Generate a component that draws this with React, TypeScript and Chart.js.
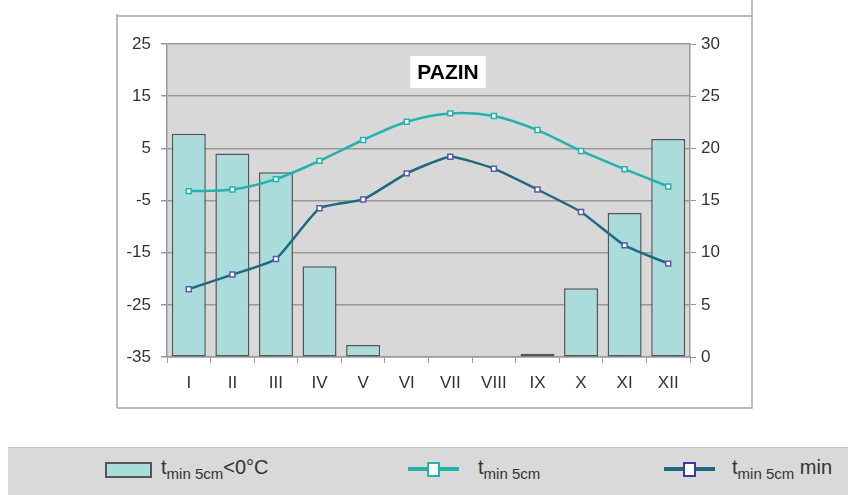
import React, { useEffect, useRef } from "react";
import { Chart, registerables } from "chart.js";

Chart.register(...registerables);

const months = ["I", "II", "III", "IV", "V", "VI", "VII", "VIII", "IX", "X", "XI", "XII"];
const daysBelowZero = [21.4, 19.5, 17.7, 8.7, 1.15, 0, 0, 0, 0.3, 6.6, 13.8, 20.9];
const tMin5cm = [-3.2, -2.9, -0.9, 2.6, 6.6, 10.1, 11.7, 11.2, 8.5, 4.5, 1.0, -2.3];
const tMin5cmMin = [-22.0, -19.2, -16.2, -6.5, -4.8, 0.2, 3.4, 1.1, -2.9, -7.2, -13.6, -17.1];
const leftTicks = [-35, -25, -15, -5, 5, 15, 25];
const rightTicks = [0, 5, 10, 15, 20, 25, 30];
const titleText = "PAZIN";

const FONT = "'Liberation Sans', Arial, sans-serif";

const bgPlugin = {
  id: "bgPlugin",
  beforeDraw(chart: any) {
    const { ctx, chartArea } = chart;
    ctx.save();
    ctx.fillStyle = "#ffffff";
    ctx.fillRect(0, 0, chart.width, chart.height);
    ctx.fillStyle = "#d8d8d8";
    ctx.fillRect(chartArea.left, chartArea.top, chartArea.right - chartArea.left, chartArea.bottom - chartArea.top);
    // outer frame
    ctx.strokeStyle = "#a8a8a8";
    ctx.lineWidth = 1.5;
    ctx.beginPath();
    ctx.moveTo(117, 408);
    ctx.lineTo(117, 14);
    ctx.moveTo(117, 16);
    ctx.lineTo(752, 16);
    ctx.moveTo(752, 0);
    ctx.lineTo(752, 408);
    ctx.lineTo(117, 408);
    ctx.stroke();
    ctx.restore();
  },
  afterDraw(chart: any) {
    const { ctx } = chart;
    ctx.save();
    ctx.font = `bold 21px ${FONT}`;
    const w = ctx.measureText(titleText).width;
    const cx = 448;
    const cy = 72;
    ctx.fillStyle = "#ffffff";
    ctx.fillRect(cx - w / 2 - 7, cy - 16, w + 14, 32);
    ctx.fillStyle = "#000000";
    ctx.textAlign = "center";
    ctx.textBaseline = "middle";
    ctx.fillText(titleText, cx, cy + 1);
    ctx.restore();
  },
};

function ChartBox() {
  const ref = useRef<HTMLCanvasElement | null>(null);
  useEffect(() => {
    if (!ref.current) return;
    const chart = new Chart(ref.current, {
      type: "bar",
      data: {
        labels: months,
        datasets: [
          {
            type: "line",
            label: "tmin 5cm",
            data: tMin5cm,
            yAxisID: "y",
            borderColor: "#22b3ad",
            borderWidth: 2.5,
            pointStyle: "rect",
            pointRadius: 3.5,
            pointBackgroundColor: "#ffffff",
            pointBorderColor: "#22b3ad",
            pointBorderWidth: 1.5,
            tension: 0.3,
            order: 1,
          } as any,
          {
            type: "line",
            label: "tmin 5cm min",
            data: tMin5cmMin,
            yAxisID: "y",
            borderColor: "#1d6a7e",
            borderWidth: 2.5,
            pointStyle: "rect",
            pointRadius: 3.5,
            pointBackgroundColor: "#ffffff",
            pointBorderColor: "#5a5aaa",
            pointBorderWidth: 1.5,
            tension: 0.15,
            order: 0,
          } as any,
          {
            type: "bar",
            label: "tmin 5cm<0°C",
            data: daysBelowZero,
            yAxisID: "y1",
            backgroundColor: "#aadcdc",
            borderColor: "#555555",
            borderWidth: 1.5,
            borderSkipped: false,
            barPercentage: 0.78,
            categoryPercentage: 1,
            order: 2,
          } as any,
        ],
      },
      options: {
        animation: false,
        responsive: false,
        maintainAspectRatio: false,
        layout: { padding: { left: 117, right: 96, top: 44, bottom: 87 } },
        plugins: {
          legend: { display: false },
          title: { display: false },
          tooltip: { enabled: false },
        },
        scales: {
          x: {
            grid: {
              display: true,
              drawOnChartArea: false,
              drawTicks: true,
              tickLength: 6,
              color: "#999999",
              offset: true,
            },
            border: { display: true, color: "#999999", width: 1.5 },
            ticks: { color: "#333333", font: { family: FONT, size: 17 }, padding: 10 },
            afterFit: (s: any) => {
              s.height = 51;
            },
          },
          y: {
            position: "left",
            min: -35,
            max: 25,
            afterBuildTicks: (s: any) => {
              s.ticks = leftTicks.map((v) => ({ value: v }));
            },
            grid: { color: "#999999", lineWidth: 1.5, drawTicks: true, tickLength: 6 },
            border: { display: true, color: "#999999", width: 1.5 },
            ticks: { color: "#333333", font: { family: FONT, size: 17 }, padding: 10 },
            afterFit: (s: any) => {
              s.width = 50;
            },
          },
          y1: {
            position: "right",
            min: 0,
            max: 30,
            afterBuildTicks: (s: any) => {
              s.ticks = rightTicks.map((v) => ({ value: v }));
            },
            grid: { drawOnChartArea: false, color: "#999999", drawTicks: true, tickLength: 6 },
            border: { display: true, color: "#999999", width: 1.5 },
            ticks: { color: "#333333", font: { family: FONT, size: 17 }, padding: 5 },
            afterFit: (s: any) => {
              s.width = 62;
            },
          },
        },
      } as any,
      plugins: [bgPlugin],
    });
    return () => chart.destroy();
  }, []);
  return <canvas ref={ref} width={848} height={495} style={{ position: "absolute", left: 0, top: 0, width: 848, height: 495 }} />;
}

const legendText: React.CSSProperties = {
  position: "absolute",
  top: 454,
  fontFamily: FONT,
  fontSize: 20,
  color: "#333333",
  whiteSpace: "nowrap",
  lineHeight: "26px",
};
const subStyle: React.CSSProperties = { fontSize: 15, verticalAlign: -5 };

function LineSymbol({ left, line, marker }: { left: number; line: string; marker: string }) {
  return (
    <div style={{ position: "absolute", left, top: 461, width: 51, height: 16 }}>
      <div style={{ position: "absolute", left: 0, top: 6, width: 51, height: 4, background: line }} />
      <div
        style={{
          position: "absolute",
          left: 19,
          top: 1,
          width: 9,
          height: 11,
          background: "#ffffff",
          border: `2px solid ${marker}`,
        }}
      />
    </div>
  );
}

export default function App() {
  return (
    <div style={{ position: "fixed", left: 0, top: 0, width: 848, height: 495, background: "#ffffff", overflow: "hidden" }}>
      <ChartBox />
      <div
        style={{
          position: "absolute",
          left: 8,
          top: 447,
          width: 840,
          height: 48,
          background: "#d9d9d9",
          borderTop: "1px solid #c4c4c4",
        }}
      />
      <div
        style={{
          position: "absolute",
          left: 105,
          top: 462,
          width: 43,
          height: 12,
          background: "#aadcdc",
          border: "2px solid #555555",
        }}
      />
      <div style={{ ...legendText, left: 161 }}>
        t<span style={subStyle}>min 5cm</span>&lt;0°C
      </div>
      <LineSymbol left={408} line="#22b3ad" marker="#22b3ad" />
      <div style={{ ...legendText, left: 478 }}>
        t<span style={subStyle}>min 5cm</span>
      </div>
      <LineSymbol left={664} line="#1d6a7e" marker="#3a3aa0" />
      <div style={{ ...legendText, left: 732 }}>
        t<span style={subStyle}>min 5cm</span> min
      </div>
    </div>
  );
}
